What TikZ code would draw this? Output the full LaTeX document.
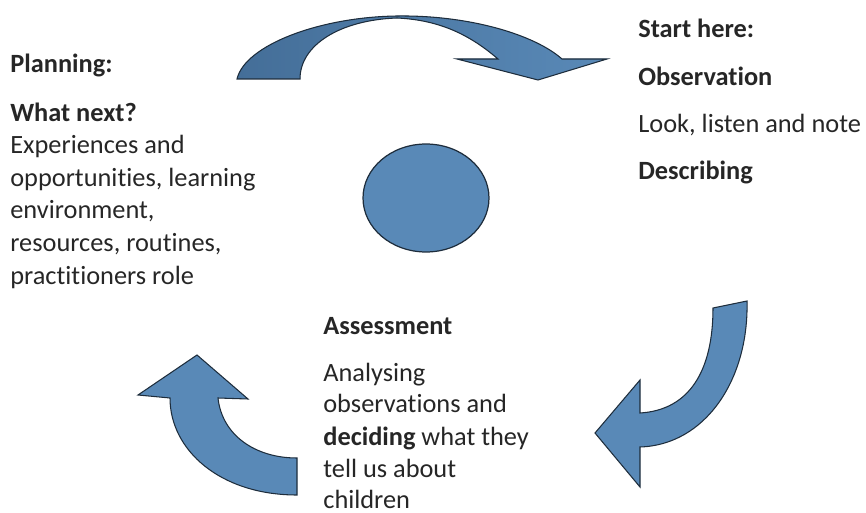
\documentclass[tikz,border=0pt]{standalone}
\usepackage{fontspec}
\setmainfont[Ligatures=NoCommon]{Carlito}
\usetikzlibrary{shapes.geometric}
\definecolor{arrowblue}{RGB}{89,137,183}
\definecolor{arrowdark}{RGB}{68,110,152}
\definecolor{rimblue}{RGB}{30,45,60}
\begin{document}
\begin{tikzpicture}[x=0.02cm, y=-0.02cm,
            txt/.style={anchor=base west, inner sep=0, text=black!85,
                        font=\fontsize{15}{18}\selectfont},
            hd/.style={txt, font=\fontsize{15}{18}\selectfont\bfseries},
            bent/.style={draw=rimblue, line width=0.6pt, fill=arrowblue, line join=miter}]
        \useasboundingbox (0,0) rectangle (866,513);

        \node (hub) [ellipse, draw=rimblue, line width=0.7pt, fill=arrowblue,
                     minimum width=2.52cm, minimum height=2.16cm, inner sep=0] at (426,198) {};

        \draw [bent, left color=arrowdark, right color=arrowblue]
            (237,79) .. controls (245,45) and (320,17) .. (397,16)
            .. controls (470,15) and (535,35) .. (562,59)
            -- (607,59) -- (538,80) -- (457,59) -- (498,59)
            .. controls (470,35) and (440,20) .. (397,18)
            .. controls (340,20) and (300,45) .. (300,79) -- cycle;
        \draw [bent]
            (713,308) -- (747,301)
            .. controls (749,380) and (705,445) .. (640,447)
            -- (640,487) -- (595,433) -- (640,380) -- (640,413)
            .. controls (690,410) and (713,370) .. (713,308) -- cycle;
        \draw [bent]
            (297,458) -- (297,495)
            .. controls (220,495) and (170,450) .. (170,398)
            -- (138,395) -- (197,355) -- (248,399) -- (218,398)
            .. controls (222,435) and (255,458) .. (297,458) -- cycle;

        \node (plan) [hd] at (10,73) {Planning:};
        \node (next) [hd] at (10,122) {What next?};
        \node (p1) [txt] at (10,154) {Experiences and};
        \node (p2) [txt] at (10,187) {opportunities, learning};
        \node (p3) [txt] at (10,219) {environment,};
        \node (p4) [txt] at (10,252) {resources, routines,};
        \node (p5) [txt] at (10,285) {practitioners role};

        \node (start) [hd] at (638,38) {Start here:};
        \node (obs) [hd] at (638,86) {Observation};
        \node (look) [txt] at (638,133) {Look, listen and note};
        \node (desc) [hd] at (638,180) {Describing};

        \node (assess) [hd] at (323,335) {Assessment};
        \node (a1) [txt] at (323,381) {Analysing};
        \node (a2) [txt] at (323,413) {observations and};
        \node (a3) [txt] at (323,445) {\textbf{deciding} what they};
        \node (a4) [txt] at (323,477) {tell us about};
        \node (a5) [txt] at (323,508) {children};
    \end{tikzpicture}
\end{document}
